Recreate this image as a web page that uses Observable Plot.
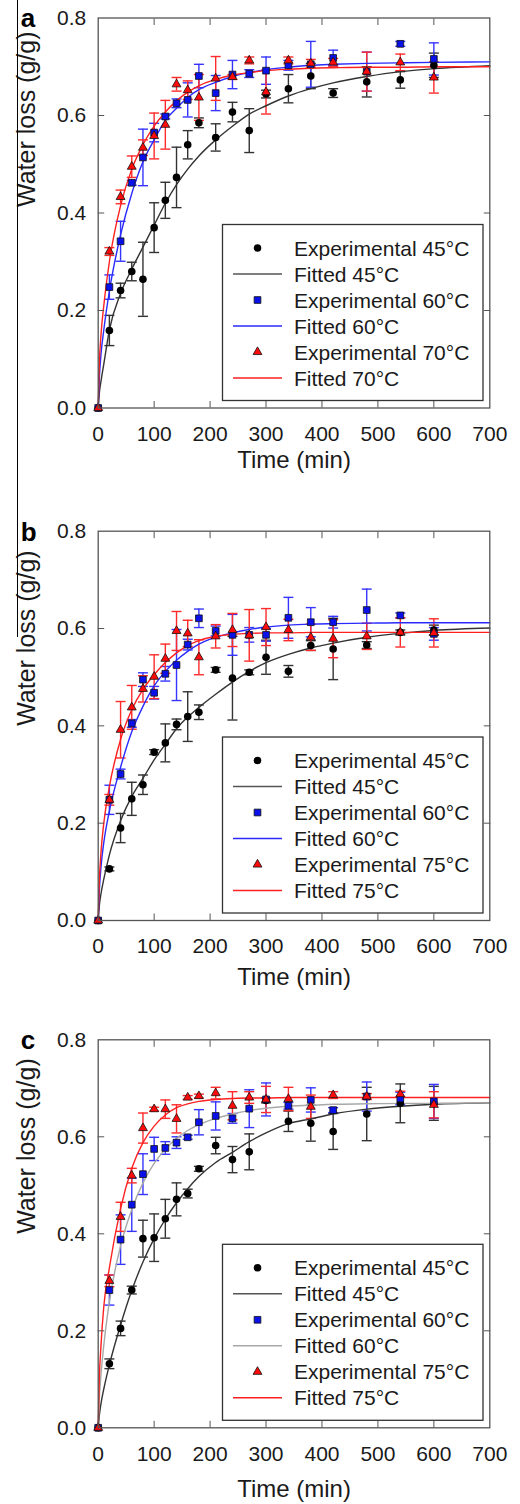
<!DOCTYPE html>
<html>
<head>
<meta charset="utf-8">
<script src="https://cdn.jsdelivr.net/npm/d3@7"></script>
<script src="https://cdn.jsdelivr.net/npm/@observablehq/plot@0.6"></script>
<style>
  html, body { margin: 0; padding: 0; background: #fff; }
  #wrap { position: relative; width: 520px; height: 1504px; overflow: hidden; }
  #edge { position: absolute; left: 16.5px; top: 0; width: 1.4px; height: 637px; background: #000; }
  #charts svg { display: block; }
</style>
</head>
<body>
<div id="wrap"><div id="charts"></div><div id="edge"></div></div>
<script>
// ---------- data ----------
const timeExp = [0,20,40,60,80,100,120,140,160,180,210,240,270,300,340,380,420,480,540,600];
const timeFit = [0,2,5,10,20,40,60,80,100,120,140,160,180,210,240,270,300,340,380,420,480,540,600,700];
const xTicks = [0,100,200,300,400,500,600,700];
const yTicks = [0,0.2,0.4,0.6,0.8];
const panelLetters = ["a","b","c"];
const tempsA = ["45°C","60°C","70°C"];
const tempsB = ["45°C","60°C","75°C"];
const tempsC = ["45°C","60°C","75°C"];

// Panel a
const a45 = [0,0.159,0.241,0.280,0.264,0.370,0.426,0.473,0.540,0.585,0.555,0.607,0.569,0.644,0.655,0.681,0.646,0.669,0.673,0.703];
const a45Err = [0,0.031,0.015,0.019,0.076,0.051,0.037,0.062,0.029,0.010,0.028,0.020,0.045,0.008,0.029,0.026,0.009,0.031,0.017,0.025];
const a60 = [0,0.248,0.342,0.462,0.514,0.565,0.598,0.625,0.632,0.681,0.646,0.684,0.686,0.692,0.703,0.705,0.718,0.690,0.747,0.716];
const a60Err = [0,0.025,0.041,0.005,0.058,0.019,0.005,0.009,0.035,0.024,0.036,0.029,0.008,0.028,0.010,0.047,0.016,0.040,0.005,0.033];
const a70 = [0,0.321,0.433,0.495,0.534,0.558,0.581,0.664,0.652,0.637,0.676,0.679,0.713,0.648,0.713,0.707,0.709,0.690,0.709,0.678];
const a70Err = [0,0.008,0.014,0.022,0.016,0.047,0.050,0.014,0.019,0.047,0.045,0.005,0.007,0.045,0.007,0.008,0.008,0.040,0.017,0.032];
const a45Fit = [0,0.03,0.055,0.09,0.16,0.235,0.285,0.33,0.375,0.42,0.458,0.49,0.517,0.55,0.578,0.603,0.62,0.64,0.655,0.667,0.68,0.69,0.696,0.702];
const a60Fit = [0,0.06,0.11,0.16,0.24,0.355,0.44,0.505,0.55,0.59,0.615,0.637,0.653,0.668,0.68,0.688,0.694,0.699,0.703,0.705,0.707,0.708,0.709,0.71];
const a70Fit = [0,0.09,0.15,0.21,0.30,0.415,0.49,0.54,0.578,0.607,0.63,0.648,0.661,0.674,0.683,0.688,0.692,0.695,0.697,0.698,0.699,0.699,0.7,0.7];

// Panel b
const b45 = [0,0.106,0.190,0.250,0.279,0.346,0.365,0.403,0.419,0.428,0.515,0.498,0.510,0.541,0.512,0.565,0.558,0.566,0.592,0.597];
const b45Err = [0,0.004,0.030,0.034,0.020,0.005,0.039,0.011,0.051,0.015,0.005,0.086,0.005,0.035,0.012,0.010,0.063,0.007,0.005,0.010];
const b60 = [0,0.248,0.301,0.405,0.495,0.468,0.507,0.525,0.567,0.621,0.595,0.587,0.587,0.587,0.622,0.613,0.613,0.638,0.627,0.589];
const b60Err = [0,0.030,0.010,0.008,0.014,0.013,0.015,0.073,0.011,0.019,0.010,0.042,0.015,0.013,0.042,0.030,0.012,0.043,0.005,0.013];
const b75 = [0,0.248,0.392,0.438,0.476,0.501,0.538,0.595,0.590,0.541,0.584,0.597,0.586,0.603,0.597,0.582,0.579,0.584,0.592,0.591];
const b75Err = [0,0.011,0.058,0.045,0.027,0.045,0.030,0.040,0.027,0.036,0.024,0.034,0.053,0.038,0.022,0.027,0.039,0.027,0.030,0.029];
const b45Fit = [0,0.03,0.055,0.085,0.135,0.205,0.255,0.292,0.33,0.362,0.394,0.418,0.438,0.465,0.49,0.512,0.53,0.547,0.56,0.57,0.582,0.59,0.596,0.601];
const b60Fit = [0,0.06,0.11,0.16,0.225,0.315,0.388,0.44,0.482,0.512,0.535,0.553,0.568,0.582,0.591,0.598,0.603,0.607,0.609,0.61,0.611,0.612,0.612,0.612];
const b75Fit = [0,0.08,0.14,0.2,0.275,0.372,0.433,0.475,0.505,0.53,0.55,0.565,0.575,0.584,0.588,0.59,0.591,0.591,0.592,0.592,0.592,0.592,0.592,0.592];

// Panel c
const c45 = [0,0.132,0.205,0.284,0.390,0.392,0.431,0.471,0.483,0.534,0.582,0.553,0.569,0.675,0.632,0.628,0.611,0.647,0.669,0.669];
const c45Err = [0,0.010,0.015,0.008,0.038,0.049,0.040,0.034,0.009,0.005,0.017,0.027,0.037,0.005,0.021,0.037,0.037,0.055,0.040,0.035];
const c60 = [0,0.284,0.388,0.460,0.523,0.575,0.577,0.588,0.599,0.630,0.643,0.638,0.658,0.677,0.664,0.676,0.655,0.683,0.679,0.673];
const c60Err = [0,0.031,0.051,0.055,0.042,0.024,0.013,0.012,0.004,0.026,0.029,0.010,0.039,0.034,0.007,0.025,0.005,0.030,0.013,0.035];
const c75 = [0,0.303,0.435,0.520,0.618,0.657,0.657,0.637,0.681,0.684,0.690,0.664,0.681,0.677,0.678,0.662,0.686,0.683,0.688,0.666];
const c75Err = [0,0.012,0.030,0.015,0.031,0.004,0.019,0.029,0.004,0.004,0.012,0.029,0.012,0.027,0.024,0.024,0.007,0.006,0.006,0.027];
const c45Fit = [0,0.025,0.05,0.08,0.13,0.212,0.283,0.342,0.39,0.43,0.464,0.493,0.518,0.547,0.568,0.59,0.608,0.627,0.637,0.647,0.657,0.663,0.667,0.67];
const c60Fit = [0,0.06,0.11,0.17,0.26,0.375,0.45,0.505,0.545,0.574,0.597,0.613,0.625,0.638,0.647,0.654,0.659,0.663,0.665,0.667,0.668,0.669,0.669,0.67];
const c75Fit = [0,0.1,0.17,0.25,0.33,0.452,0.535,0.588,0.622,0.645,0.66,0.668,0.673,0.677,0.679,0.68,0.68,0.681,0.681,0.681,0.681,0.681,0.681,0.681];

// ---------- styling ----------
const FONT = "'Liberation Sans', Arial, Helvetica, sans-serif";
const TEXT = "#1a1a1a";
const styles = [
  {marker: "circle",   fill: "#000",    err: "#333",    line: "#333"},
  {marker: "square",   fill: "#0a10e8", err: "#3535ff", line: "#2a2aff"},
  {marker: "triangle", fill: "#ff0a0a", err: "#ff2a2a", line: "#ff2020"}
];
const capSymbol = { draw(ctx) { ctx.moveTo(-5, 0); ctx.lineTo(5, 0); } };

function rowsExp(vals, errs) { return timeExp.map((t, i) => ({t, v: vals[i], e: errs[i]})); }
function rowsFit(vals) { return timeFit.map((t, i) => ({t, v: vals[i]})); }

function makePanel(p) {
  const frameColor = "#555";
  const marks = [];
  // error bars
  p.series.forEach((s, k) => {
    const st = styles[k];
    const d = rowsExp(s.vals, s.errs).filter(r => r.e > 0);
    marks.push(Plot.ruleX(d, {x: "t", y1: r => r.v - r.e, y2: r => r.v + r.e, stroke: st.err, strokeWidth: 1.4}));
    marks.push(Plot.dot(d, {x: "t", y: r => r.v + r.e, symbol: capSymbol, fill: "none", stroke: st.err, strokeWidth: 1.4}));
    marks.push(Plot.dot(d, {x: "t", y: r => r.v - r.e, symbol: capSymbol, fill: "none", stroke: st.err, strokeWidth: 1.4}));
  });
  // fitted curves
  p.series.forEach((s, k) => {
    marks.push(Plot.line(rowsFit(s.fit), {x: "t", y: "v", stroke: s.lineColor || styles[k].line, strokeWidth: 1.4, curve: "monotone-x"}));
  });
  // markers
  p.series.forEach((s, k) => {
    const st = styles[k];
    const d = rowsExp(s.vals, s.errs);
    if (st.marker === "circle") marks.push(Plot.dot(d, {x: "t", y: "v", r: 3.8, fill: st.fill, stroke: "none"}));
    else if (st.marker === "square") marks.push(Plot.dot(d, {x: "t", y: "v", symbol: "square", r: 3.8, fill: st.fill, stroke: "#111", strokeWidth: 0.8}));
    else marks.push(Plot.dot(d, {x: "t", y: "v", symbol: "triangle", r: 3.3, fill: st.fill, stroke: "#111", strokeWidth: 0.8}));
  });
  // frame and axes
  marks.push(Plot.frame({stroke: frameColor, strokeWidth: 1.3}));
  marks.push(Plot.axisX({ticks: xTicks, tickSize: 0, tickPadding: 18, tickFormat: d3.format("d"), label: null, fill: TEXT}));
  marks.push(Plot.axisY({ticks: yTicks, tickSize: 0, tickPadding: 12, tickFormat: d3.format(".1f"), label: null, fill: TEXT}));
  const inX = xTicks.slice(1, -1), inY = yTicks.slice(1, -1);
  marks.push(Plot.axisX({anchor: "bottom", ticks: inX, tickSize: 6.5, dy: -6.5, fill: "none", stroke: frameColor, label: null}));
  marks.push(Plot.axisX({anchor: "top", ticks: inX, tickSize: 6.5, dy: 6.5, fill: "none", stroke: frameColor, label: null}));
  marks.push(Plot.axisY({anchor: "left", ticks: inY, tickSize: 6.5, dx: 6.5, fill: "none", stroke: frameColor, label: null}));
  marks.push(Plot.axisY({anchor: "right", ticks: inY, tickSize: 6.5, dx: -6.5, fill: "none", stroke: frameColor, label: null}));
  // titles
  marks.push(Plot.text(["Time (min)"], {text: d => d, frameAnchor: "bottom", dy: p.xTitleDy, fontSize: 24, lineAnchor: "middle", fill: TEXT}));
  marks.push(Plot.text(["Water loss (g/g)"], {text: d => d, frameAnchor: "left", rotate: -90, dx: -71, dy: p.yTitleDy, fontSize: 25, lineAnchor: "middle", fill: TEXT}));
  marks.push(Plot.text([p.letter], {text: d => d, frameAnchor: "top-left", dx: -77.5, dy: 1, textAnchor: "start", lineAnchor: "middle", fontSize: 26, fontWeight: "bold", fill: "#000"}));

  const svg = Plot.plot({
    width: 520, height: p.height,
    marginLeft: 97.7, marginRight: 30.7, marginTop: p.top, marginBottom: p.bottom,
    x: {domain: [0, 700]},
    y: {domain: [0, 0.8]},
    style: {fontFamily: FONT, fontSize: "21px", color: "#000", background: "#fff", overflow: "visible"},
    marks
  });

  // legend box (drawn into the same SVG)
  const frameBottom = p.height - p.bottom;
  const L = {left: 222.5, right: 483, h: 176};
  L.top = frameBottom - 7 - L.h;
  const g = d3.select(svg).append("g").attr("class", "legend");
  g.append("rect").attr("x", L.left).attr("y", L.top).attr("width", L.right - L.left).attr("height", L.h)
    .attr("fill", "#fff").attr("stroke", "#333").attr("stroke-width", 1.3);
  const entries = [];
  p.series.forEach((s, k) => {
    entries.push({kind: "marker", k, label: "Experimental " + s.temp});
    entries.push({kind: "line", k, label: "Fitted " + s.temp, color: s.legendLine || s.lineColor || styles[k].line});
  });
  entries.forEach((en, i) => {
    const y = L.top + 23.5 + 26 * i;
    const st = styles[en.k];
    if (en.kind === "line") {
      g.append("line").attr("x1", 233).attr("x2", 282).attr("y1", y).attr("y2", y)
        .attr("stroke", en.color).attr("stroke-width", 1.4);
    } else {
      const type = st.marker === "circle" ? d3.symbolCircle : st.marker === "square" ? d3.symbolSquare : d3.symbolTriangle;
      const r = st.marker === "triangle" ? 3.3 : 3.8;
      g.append("path").attr("d", d3.symbol(type, Math.PI * r * r)())
        .attr("transform", `translate(257.5,${y})`)
        .attr("fill", st.fill).attr("stroke", st.marker === "circle" ? "none" : "#111").attr("stroke-width", 0.8);
    }
    g.append("text").attr("x", 294).attr("y", y).attr("dy", "0.36em")
      .attr("text-anchor", "start")
      .attr("font-family", FONT).attr("font-size", 21).attr("fill", TEXT).text(en.label);
  });
  return svg;
}

const panels = [
  {letter: panelLetters[0], height: 490, top: 17.5, bottom: 82.5, xTitleDy: 52, yTitleDy: -6,
   series: [
     {temp: tempsA[0], vals: a45, errs: a45Err, fit: a45Fit, legendLine: "#555"},
     {temp: tempsA[1], vals: a60, errs: a60Err, fit: a60Fit},
     {temp: tempsA[2], vals: a70, errs: a70Err, fit: a70Fit}
   ]},
  {letter: panelLetters[1], height: 510, top: 40.7, bottom: 80, xTitleDy: 57, yTitleDy: 0,
   series: [
     {temp: tempsB[0], vals: b45, errs: b45Err, fit: b45Fit, legendLine: "#555"},
     {temp: tempsB[1], vals: b60, errs: b60Err, fit: b60Fit},
     {temp: tempsB[2], vals: b75, errs: b75Err, fit: b75Fit}
   ]},
  {letter: panelLetters[2], height: 504, top: 39.3, bottom: 76.7, xTitleDy: 62, yTitleDy: 0,
   series: [
     {temp: tempsC[0], vals: c45, errs: c45Err, fit: c45Fit, legendLine: "#555"},
     {temp: tempsC[1], vals: c60, errs: c60Err, fit: c60Fit, lineColor: "#a8a8a8"},
     {temp: tempsC[2], vals: c75, errs: c75Err, fit: c75Fit}
   ]}
];

const host = document.getElementById("charts");
panels.forEach(p => host.appendChild(makePanel(p)));
</script>
</body>
</html>
